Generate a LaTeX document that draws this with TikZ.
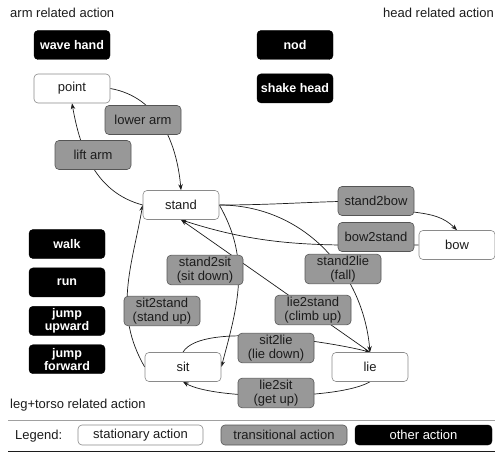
\documentclass[tikz,border=0pt]{standalone}
\usepackage{fontspec}
\setmainfont{Liberation Sans}
\usepackage{tikz}
\usetikzlibrary{arrows.meta,positioning,backgrounds}
\definecolor{acInk}{HTML}{1C1C1C}
\definecolor{acEdge}{HTML}{8A8A8A}
\definecolor{acTrans}{HTML}{989898}
\definecolor{acTransEdge}{HTML}{555555}
\definecolor{acRule}{HTML}{A0A0A0}
\tikzset{
  % Stationary action (white)
  statbox/.style={rectangle,rounded corners=4pt,
    minimum width=76pt,minimum height=29pt,inner sep=2pt,
    align=center,draw=acEdge,line width=0.6pt,fill=white,
    font=\fontsize{13}{13.5}\selectfont,text=acInk},
  % Transitional action (gray)
  transbox/.style={rectangle,rounded corners=4pt,
    minimum width=76pt,minimum height=29pt,inner sep=2pt,
    align=center,draw=acTransEdge,line width=0.6pt,fill=acTrans,
    font=\fontsize{13}{13.5}\selectfont,text=acInk},
  % Other action (black)
  otherbox/.style={rectangle,rounded corners=4pt,
    minimum width=76pt,minimum height=29pt,inner sep=2pt,
    align=center,draw=black,fill=black,
    font=\fontsize{12.5}{13}\selectfont\bfseries,text=white},
  % Section titles
  seclbl/.style={font=\fontsize{13}{13.5}\selectfont,text=acInk,inner sep=0pt},
  % Connectors and rules
  arr/.style={-{Stealth[length=6pt,width=4.5pt]},line width=0.7pt,color=acInk},
  rule/.style={draw=acRule,line width=0.6pt},
  dblrule/.style={draw=acRule,line width=0.6pt,double=white,double distance=2.2pt},
}

\begin{document}
\begin{tikzpicture}[x=1pt,y=1pt]
  \useasboundingbox (0,0) rectangle (495,453);

  % Section titles
  \node[seclbl,anchor=west] (armlbl) at (10,440) {arm related action};
  \node[seclbl,anchor=east] (headlbl) at (494,440) {head related action};
  \node[seclbl,anchor=west] (leglbl) at (10,48) {leg+torso related action};

  % Arm actions (top left)
  \node[otherbox] (wave) at (72,408) {wave hand};
  \node[statbox,below=14pt of wave] (point) {point};
  \node[transbox] (lowarm) at (143,333) {lower arm};
  \node[transbox] (liftarm) at (93,298) {lift arm};

  % Head actions (top right)
  \node[otherbox] (nod) at (295,408) {nod};
  \node[otherbox,below=14pt of nod] (shake) {shake head};

  % Leg+torso actions (left column)
  \node[otherbox] (walk) at (67,209) {walk};
  \node[otherbox,below=9pt of walk] (run) {run};
  \node[otherbox,below=9pt of run] (jumpup) {jump\\upward};
  \node[otherbox,below=9pt of jumpup] (jumpfwd) {jump\\forward};

  % Postures
  \node[statbox] (stand) at (181,248) {stand};
  \node[statbox] (sit) at (183,86) {sit};
  \node[statbox] (lie) at (370,86) {lie};
  \node[statbox] (bow) at (457,208) {bow};

  % Transitions between postures
  \node[transbox] (s2sit) at (205,183) {stand2sit\\(sit down)};
  \node[transbox] (sit2s) at (162,142) {sit2stand\\(stand up)};
  \node[transbox] (s2bow) at (376,252) {stand2bow};
  \node[transbox] (bow2s) at (376,216) {bow2stand};
  \node[transbox] (s2lie) at (343,184) {stand2lie\\(fall)};
  \node[transbox] (lie2s) at (313,143) {lie2stand\\(climb up)};
  \node[transbox] (sit2lie) at (276,105) {sit2lie\\(lie down)};
  \node[transbox] (lie2sit) at (276,60) {lie2sit\\(get up)};

  % Legend
  \node[seclbl,anchor=west] (legend) at (15,17) {Legend:};
  \node[statbox,minimum width=125pt,minimum height=20pt] (lgstat) at (140.5,18) {stationary action};
  \node[transbox,minimum width=126pt,minimum height=20pt] (lgtrans) at (284,18) {transitional action};
  \node[otherbox,minimum width=137pt,minimum height=20pt,
    font=\fontsize{13}{13.5}\selectfont] (lgother) at (423.5,18) {other action};

  \begin{scope}[on background layer]
    % Panel rules
    \draw[dblrule] (187.5,450) -- (187.5,269.5);
    \draw[dblrule] (8,269.5) -- (495,269.5);
    \draw[rule] (8,33) -- (495,33);
    \draw[draw=acInk,line width=1.2pt] (8,1.5) -- (495,1.5);

    % Arm transitions
    \draw[arr] (point.east) to[out=-10,in=95] (stand.north);
    \draw[arr] (stand.west) to[out=165,in=-80] (point.south);

    % Posture transitions
    \draw[arr] (stand.east) to[out=-60,in=75] (sit.east);
    \draw[arr] (sit.west) to[out=120,in=-100] (stand.west);
    \draw[arr] (stand.east) to[out=0,in=180] (s2bow.center)
      to[out=-30,in=135] (bow.north);
    \draw[arr] (bow.west) to[out=180,in=-18] (stand.south);
    \draw[arr] (stand.east) to[out=0,in=95] (lie.north);
    \draw[arr] (lie.north) -- (stand.south);
    \draw[arr] (sit.north) to[out=60,in=165,looseness=0.5] (lie.north);
    \draw[arr] (lie.south) to[out=-150,in=-30,looseness=0.5] (sit.south);
  \end{scope}
\end{tikzpicture}
\end{document}
